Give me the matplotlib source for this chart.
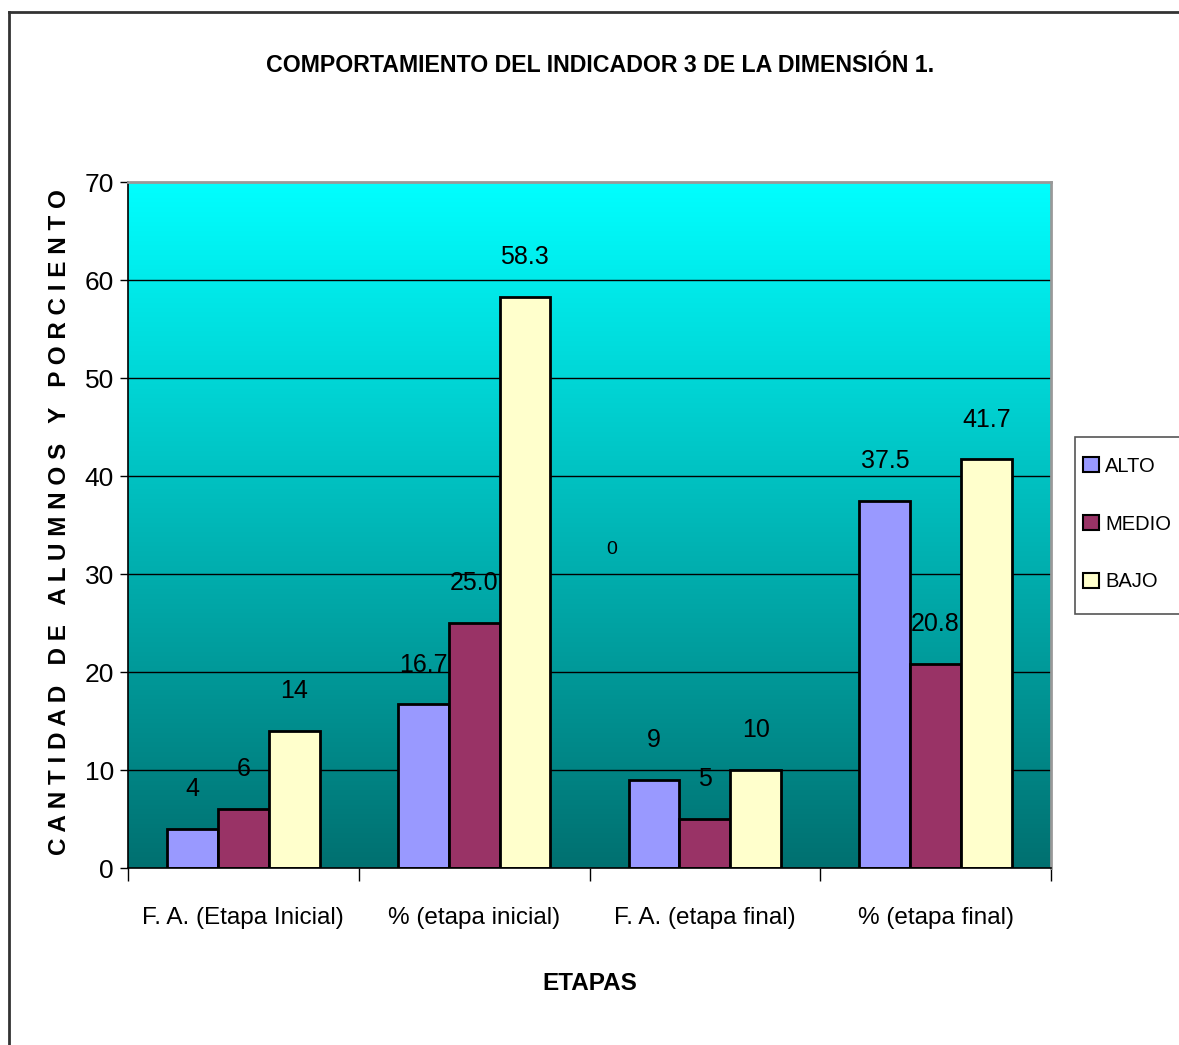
import numpy as np
import matplotlib
matplotlib.use("Agg")
import matplotlib.pyplot as plt
from matplotlib import font_manager
from matplotlib.lines import Line2D
from matplotlib.patches import Patch, Rectangle

categories = ["F. A. (Etapa Inicial)", "% (etapa inicial)", "F. A. (etapa final)", "% (etapa final)"]
series_names = ["ALTO", "MEDIO", "BAJO"]
alto = [4, 16.7, 9, 37.5]
medio = [6, 25.0, 5, 20.8]
bajo = [14, 58.3, 10, 41.7]
alto_labels = ["4", "16.7", "9", "37.5"]
medio_labels = ["6", "25.0", "5", "20.8"]
bajo_labels = ["14", "58.3", "10", "41.7"]
yticks = [0, 10, 20, 30, 40, 50, 60, 70]

colors = ["#9999FF", "#993366", "#FFFFCC"]

names = {f.name for f in font_manager.fontManager.ttflist}
narrow = "Liberation Sans Narrow" if "Liberation Sans Narrow" in names else "Liberation Sans"
NF = [narrow, "DejaVu Sans"]
plt.rcParams["font.family"] = NF

W, H = 1179, 1045
fig = plt.figure(figsize=(W / 100, H / 100), dpi=100)
ax = fig.add_axes([128 / W, 1 - 868 / H, (1051 - 128) / W, (868 - 182) / H])

ax.set_xlim(0, 4)
ax.set_ylim(0, 70)

# gradient background
grad = np.linspace(1, 0, 256).reshape(-1, 1)
top = np.array([0, 255, 255]) / 255
bot = np.array([0, 112, 112]) / 255
img = bot + (top - bot) * grad[..., None]
img = img.reshape(256, 1, 3)
ax.imshow(img, extent=[0, 4, 0, 70], aspect="auto", zorder=0, interpolation="bicubic")

for y in yticks[1:-1]:
    ax.axhline(y, color="black", lw=1, zorder=1)

x = np.arange(len(categories)) + 0.5
bw = 0.22
all_vals = [alto, medio, bajo]
all_labels = [alto_labels, medio_labels, bajo_labels]
for i, (vals, labs, c, n) in enumerate(zip(all_vals, all_labels, colors, series_names)):
    xs = x + (i - 1) * bw
    ax.bar(xs, vals, width=bw, color=c, edgecolor="black", lw=2, zorder=2, label=n)
    for xi, v, lab in zip(xs, vals, labs):
        ax.annotate(lab, (xi, v), xytext=(0, 20), textcoords="offset points",
                    ha="center", va="bottom", fontsize=18, family=NF, zorder=3)

# stray label
ax.text(612 / W, 1 - 550 / H, "0", transform=fig.transFigure, ha="center", va="center",
        fontsize=14, family=NF)

for s in ["top", "right"]:
    ax.spines[s].set_color("#999999")
    ax.spines[s].set_linewidth(2)
for s in ["left", "bottom"]:
    ax.spines[s].set_color("black")
    ax.spines[s].set_linewidth(1.2)

ax.set_yticks(yticks)
ax.set_yticklabels([str(v) for v in yticks], fontsize=19)
ax.tick_params(axis="y", length=6, width=1, pad=4)
ax.set_xticks(x)
ax.set_xticklabels(categories, fontsize=17.5)
ax.tick_params(axis="x", which="major", length=0, pad=28)
ax.set_xticks([0, 1, 2, 3, 4], minor=True)
ax.tick_params(axis="x", which="minor", length=9, width=1)

fig.text(590 / W, 1 - 983 / H, "ETAPAS", ha="center", va="center", fontsize=17.5,
         fontweight="bold", family=NF)
fig.text(600 / W, 1 - 66 / H, "COMPORTAMIENTO DEL INDICADOR 3 DE LA DIMENSIÓN 1.",
         ha="center", va="center", fontsize=16.7, fontweight="bold", family=NF)
fig.text(60 / W, 1 - 522 / H, "C A N T I D A D   D E   A L U M N O S   Y   P O R C I E N T O",
         rotation=90, ha="center", va="center", fontsize=17.5, fontweight="bold",
         family=["Liberation Sans", "DejaVu Sans"])

# legend frame drawn separately
fig.add_artist(Rectangle((1075 / W, 1 - 614 / H), 120 / W, 177 / H, transform=fig.transFigure,
                         facecolor="white", edgecolor="#555555", lw=1.2, clip_on=False, zorder=4))
handles = [Patch(facecolor=c, edgecolor="black", lw=1.5) for c in colors]
leg = fig.legend(handles, series_names, loc="center left",
                 bbox_to_anchor=(1083 / W, 1 - 524 / H), fontsize=14.5, frameon=False,
                 handlelength=0.8, handleheight=0.8,
                 handletextpad=0.3, labelspacing=1.93, borderpad=0.0, borderaxespad=0)
leg.set_zorder(5)

# outer border (left and top visible)
fig.add_artist(Line2D([9 / W, 9 / W], [0, 1 - 12 / H], transform=fig.transFigure, color="#333333", lw=2))
fig.add_artist(Line2D([9 / W, 1], [1 - 12 / H, 1 - 12 / H], transform=fig.transFigure, color="#333333", lw=2))

fig.savefig("out.png", dpi=100)
